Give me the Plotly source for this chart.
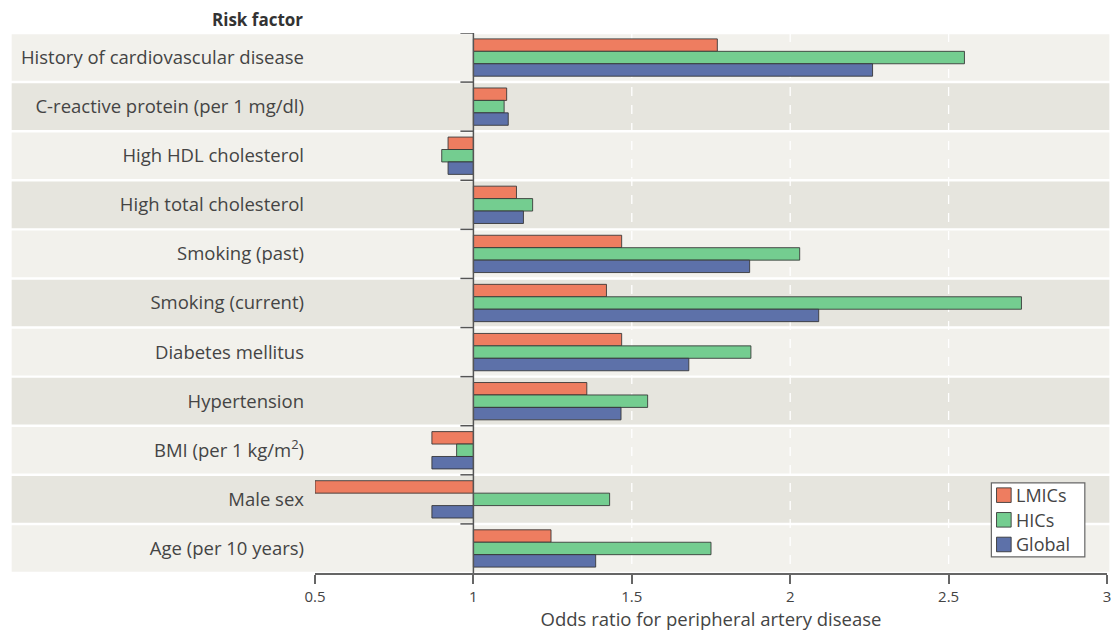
import plotly.graph_objects as go

categories = [
    "History of cardiovascular disease",
    "C-reactive protein (per 1 mg/dl)",
    "High HDL cholesterol",
    "High total cholesterol",
    "Smoking (past)",
    "Smoking (current)",
    "Diabetes mellitus",
    "Hypertension",
    "BMI (per 1 kg/m<sup>2</sup>)",
    "Male sex",
    "Age (per 10 years)",
]
lmics = [1.77, 1.105, 0.92, 1.136, 1.468, 1.42, 1.468, 1.358, 0.869, 0.50, 1.245]
hics = [2.55, 1.097, 0.90, 1.187, 2.03, 2.73, 1.876, 1.55, 0.947, 1.43, 1.75]
global_ = [2.26, 1.11, 0.92, 1.158, 1.872, 2.09, 1.68, 1.466, 0.869, 0.869, 1.386]
series_names = ["LMICs", "HICs", "Global"]
series_colors = ["#ee7d60", "#74cd90", "#5d71a9"]
tick_vals = [0.5, 1, 1.5, 2, 2.5, 3]
tick_text = ["0.5", "1", "1.5", "2", "2.5", "3"]
grid_vals = [1.5, 2, 2.5]
BASE = 1.0

FONT = "'Open Sans', Lato, sans-serif"
OUTLINE = "rgba(50,50,50,0.85)"

fig = go.Figure()
for name, vals, col in zip(series_names, [lmics, hics, global_], series_colors):
    fig.add_trace(go.Bar(
        y=categories,
        x=[v - BASE for v in vals],
        base=BASE,
        orientation="h",
        name=name,
        showlegend=False,
        marker=dict(color=col, line=dict(color=OUTLINE, width=1)),
    ))

n = len(categories)
shapes = []
annotations = []
# row bands
for i in range(n):
    shapes.append(dict(
        type="rect", xref="paper", yref="y",
        x0=-0.383, x1=1.003, y0=i - 0.5 + 0.025, y1=i + 0.5 - 0.025,
        fillcolor="#f2f1ec" if i % 2 == 0 else "#e6e5de",
        line=dict(width=0), layer="below",
    ))
# dashed white grid lines
for g in grid_vals:
    shapes.append(dict(
        type="line", xref="x", yref="y", x0=g, x1=g, y0=-0.5, y1=n - 0.5,
        line=dict(color="white", width=1.3, dash="dash"), layer="between",
    ))
# vertical axis at OR=1
shapes.append(dict(
    type="line", xref="x", yref="y", x0=BASE, x1=BASE, y0=-0.5, y1=n - 0.5,
    line=dict(color="#555", width=1.5), layer="above",
))
# boundary ticks to the left of the OR=1 axis
for i in range(n):
    shapes.append(dict(
        type="line", xref="x", yref="y", xsizemode="pixel", xanchor=BASE,
        x0=-13, x1=0, y0=i - 0.5, y1=i - 0.5,
        line=dict(color="#555", width=1.5), layer="above",
    ))

# legend box (drawn manually to match the compact original legend)
LEG_X0, LEG_X1, LEG_Y0, LEG_Y1 = 0.854, 0.972, 0.030, 0.167
shapes.append(dict(
    type="rect", xref="paper", yref="paper",
    x0=LEG_X0, x1=LEG_X1, y0=LEG_Y0, y1=LEG_Y1,
    fillcolor="white", line=dict(color="#666", width=1.2), layer="above",
))
entry_h = (LEG_Y1 - LEG_Y0) / len(series_names)
sw = 0.0185
sh = 0.027
for k, (name, col) in enumerate(zip(series_names, series_colors)):
    yc = LEG_Y1 - entry_h * (k + 0.5)
    shapes.append(dict(
        type="rect", xref="paper", yref="paper",
        x0=LEG_X0 + 0.0065, x1=LEG_X0 + 0.0065 + sw,
        y0=yc - sh / 2, y1=yc + sh / 2,
        fillcolor=col, line=dict(color=OUTLINE, width=1), layer="above",
    ))
    annotations.append(dict(
        text=name, xref="paper", yref="paper",
        x=LEG_X0 + 0.0065 + sw + 0.003, y=yc, xanchor="left", yanchor="middle",
        showarrow=False, font=dict(size=18, color="#444", family=FONT),
    ))

annotations.append(dict(
    text="<b>Risk factor</b>", xref="paper", yref="paper",
    x=0, y=1, xanchor="right", yanchor="bottom", xshift=-10, yshift=0,
    showarrow=False, font=dict(size=17, color="#333", family=FONT),
))

fig.update_layout(
    width=1115, height=632,
    margin=dict(l=315, r=4, t=33, b=59),
    paper_bgcolor="white", plot_bgcolor="rgba(0,0,0,0)",
    barmode="group", bargap=0.24, bargroupgap=0,
    font=dict(family=FONT, color="#444", size=18),
    shapes=shapes,
    annotations=annotations,
    showlegend=False,
    xaxis=dict(
        range=[0.5, 3], tickvals=tick_vals, ticktext=tick_text,
        showgrid=False, zeroline=False,
        showline=True, linecolor="#666", linewidth=1.5,
        ticks="outside", ticklen=9, tickcolor="#666", tickwidth=1.5,
        tickfont=dict(size=15, color="#444"),
        ticklabeloverflow="allow",
        title=dict(text="Odds ratio for peripheral artery disease",
                   font=dict(size=18.5, color="#444"), standoff=4),
    ),
    yaxis=dict(
        autorange=False, range=[n - 0.5, -0.5], type="category",
        showgrid=False, zeroline=False, showline=False,
        ticks="", ticklabelstandoff=10,
        tickfont=dict(size=18.5, color="#444"),
    ),
)

fig.write_html(
    "out.html",
    config={"displayModeBar": False},
    post_script="document.body.style.margin='0';document.body.style.overflow='hidden';",
)
